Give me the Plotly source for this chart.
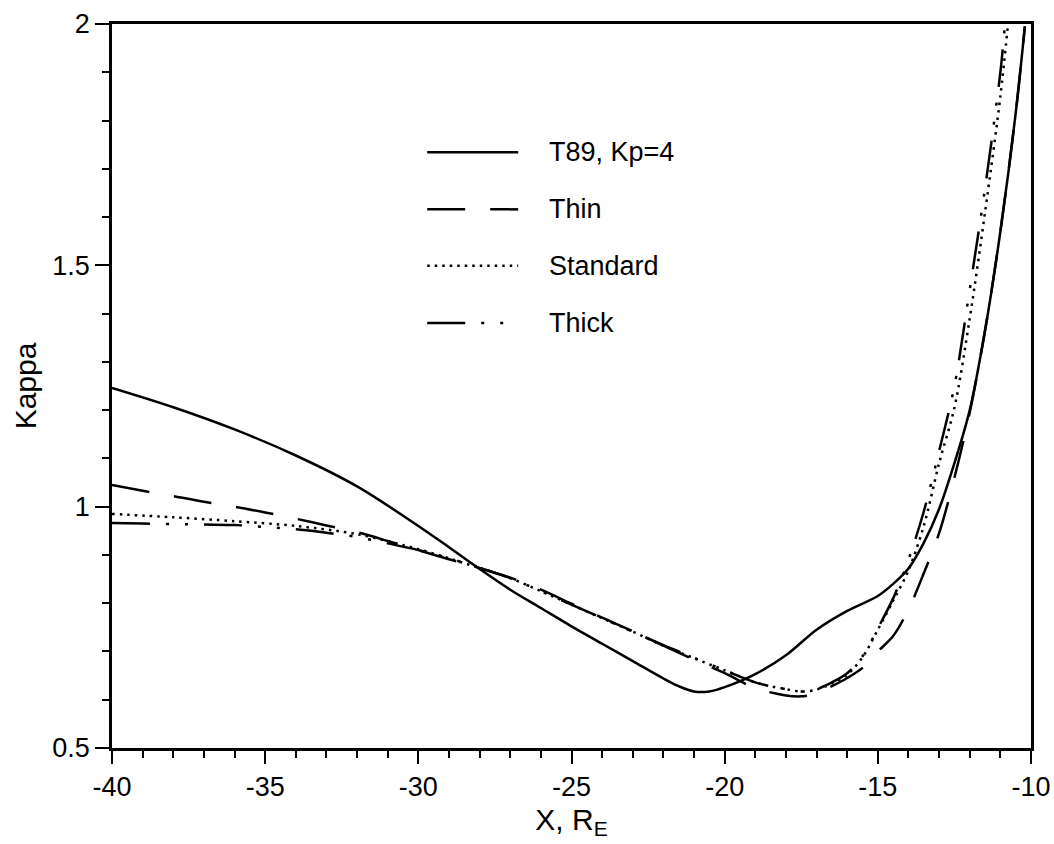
import plotly.graph_objects as go

# ---------------- data ----------------
x_t89 = [-40, -38, -36, -34, -32, -30, -29, -28, -27, -26, -25, -24, -23, -22, -21.5, -21, -20.5, -20,
         -19, -18, -17, -16, -15, -14.5, -14, -13.5, -13, -12.5, -12, -11.5, -11, -10.5, -10.2]
y_t89 = [1.246, 1.206, 1.160, 1.106, 1.042, 0.960, 0.916, 0.871, 0.828, 0.790, 0.752, 0.716, 0.680, 0.644,
         0.628, 0.617, 0.617, 0.626, 0.653, 0.692, 0.745, 0.784, 0.815, 0.840, 0.872, 0.925, 0.995, 1.090,
         1.200, 1.365, 1.570, 1.815, 1.995]

x_thin = [-40, -39, -38, -37, -36, -35, -34, -33, -32, -31, -30, -29, -28, -27, -26, -25, -24, -23, -22,
          -21, -20, -19, -18, -17.5, -17, -16.5, -16, -15.5, -15, -14.5, -14, -13.5, -13, -12.5, -12,
          -11.5, -11, -10.5, -10.2]
y_thin = [1.045, 1.033, 1.022, 1.010, 1.000, 0.988, 0.975, 0.961, 0.947, 0.929, 0.910, 0.891, 0.873,
          0.853, 0.828, 0.799, 0.770, 0.742, 0.712, 0.683, 0.655, 0.624, 0.609, 0.607, 0.613, 0.628,
          0.645, 0.666, 0.700, 0.732, 0.787, 0.862, 0.945, 1.060, 1.195, 1.365, 1.570, 1.815, 1.995]

x_std = [-40, -38, -36, -34, -32, -30, -29, -28, -27, -26, -25, -24, -23, -22, -21, -20, -19, -18.5,
         -18, -17.5, -17, -16.5, -16, -15.5, -15, -14.5, -14, -13.5, -13, -12.5, -12, -11.5, -11, -10.75]
y_std = [0.985, 0.978, 0.970, 0.960, 0.943, 0.912, 0.893, 0.873, 0.852, 0.825, 0.797, 0.769, 0.741,
         0.712, 0.686, 0.661, 0.636, 0.628, 0.622, 0.617, 0.621, 0.634, 0.652, 0.688, 0.745, 0.805,
         0.868, 0.960, 1.090, 1.205, 1.390, 1.610, 1.850, 2.000]

x_thick = [-40, -39, -38, -37, -36, -35, -34, -33, -32, -31, -30, -29, -28, -27, -26, -25, -24, -23, -22,
           -21, -20, -19, -18.5, -18, -17.5, -17, -16.5, -16, -15.5, -15, -14.5, -14, -13.5, -13, -12.5,
           -12, -11.5, -11, -10.85]
y_thick = [0.966, 0.965, 0.964, 0.963, 0.962, 0.958, 0.953, 0.946, 0.937, 0.924, 0.910, 0.893, 0.873,
           0.852, 0.825, 0.797, 0.769, 0.741, 0.713, 0.687, 0.661, 0.636, 0.628, 0.622, 0.617, 0.622,
           0.636, 0.655, 0.690, 0.748, 0.810, 0.890, 0.990, 1.115, 1.250, 1.450, 1.660, 1.900, 2.000]

series_names = ["T89, Kp=4", "Thin", "Standard", "Thick"]
series_dash = ["solid", "38px,25px", "2.5px,5px", "38px,16px,3px,16px,3px,16px"]

x_ticks = [-40, -35, -30, -25, -20, -15, -10]
x_ticklabels = ["-40", "-35", "-30", "-25", "-20", "-15", "-10"]
y_ticks = [0.5, 1, 1.5, 2]
y_ticklabels = ["0.5", "1", "1.5", "2"]

FONT = "Liberation Sans, Arial, Helvetica, sans-serif"
LW = 2.5

fig = go.Figure()
for xs, ys, name, dash in zip([x_t89, x_thin, x_std, x_thick],
                              [y_t89, y_thin, y_std, y_thick],
                              series_names, series_dash):
    fig.add_trace(go.Scatter(x=xs, y=ys, mode="lines", name=name,
                             line=dict(color="black", width=LW, dash=dash, shape="spline", smoothing=0.9),
                             showlegend=False, cliponaxis=True))

# manual legend (line samples + labels) placed in paper coordinates
leg_y = [0.823, 0.744, 0.666, 0.587]
for yy, name, dash in zip(leg_y, series_names, series_dash):
    fig.add_shape(type="line", xref="paper", yref="paper", x0=0.343, x1=0.442, y0=yy, y1=yy,
                  line=dict(color="black", width=LW, dash=dash))
    fig.add_annotation(xref="paper", yref="paper", x=0.473, y=yy, text=name, showarrow=False,
                       xanchor="left", yanchor="middle", font=dict(family=FONT, size=27, color="black"))

axis_common = dict(showline=True, linecolor="black", linewidth=2.5, mirror=True, showgrid=False,
                   zeroline=False, ticks="outside", tickcolor="black", tickwidth=2,
                   tickfont=dict(family=FONT, size=27, color="black"))

fig.update_xaxes(range=[-40, -10], tickvals=x_ticks, ticktext=x_ticklabels, ticklen=13,
                 minor=dict(ticks="outside", dtick=1, ticklen=7, tickwidth=2, tickcolor="black"),
                 title=dict(text="X, R<sub>E</sub>", font=dict(family=FONT, size=30, color="black"), standoff=8),
                 **axis_common)
fig.update_yaxes(range=[0.5, 2], tickvals=y_ticks, ticktext=y_ticklabels, ticklen=14,
                 minor=dict(ticks="outside", dtick=0.1, ticklen=7, tickwidth=2, tickcolor="black"),
                 title=dict(text="Kappa", font=dict(family=FONT, size=30, color="black"), standoff=7),
                 **axis_common)

fig.update_layout(width=1054, height=844, autosize=False,
                  margin=dict(l=112, r=23, t=24, b=96, autoexpand=False),
                  paper_bgcolor="white", plot_bgcolor="white", showlegend=False)

fig.write_html("out.html")
